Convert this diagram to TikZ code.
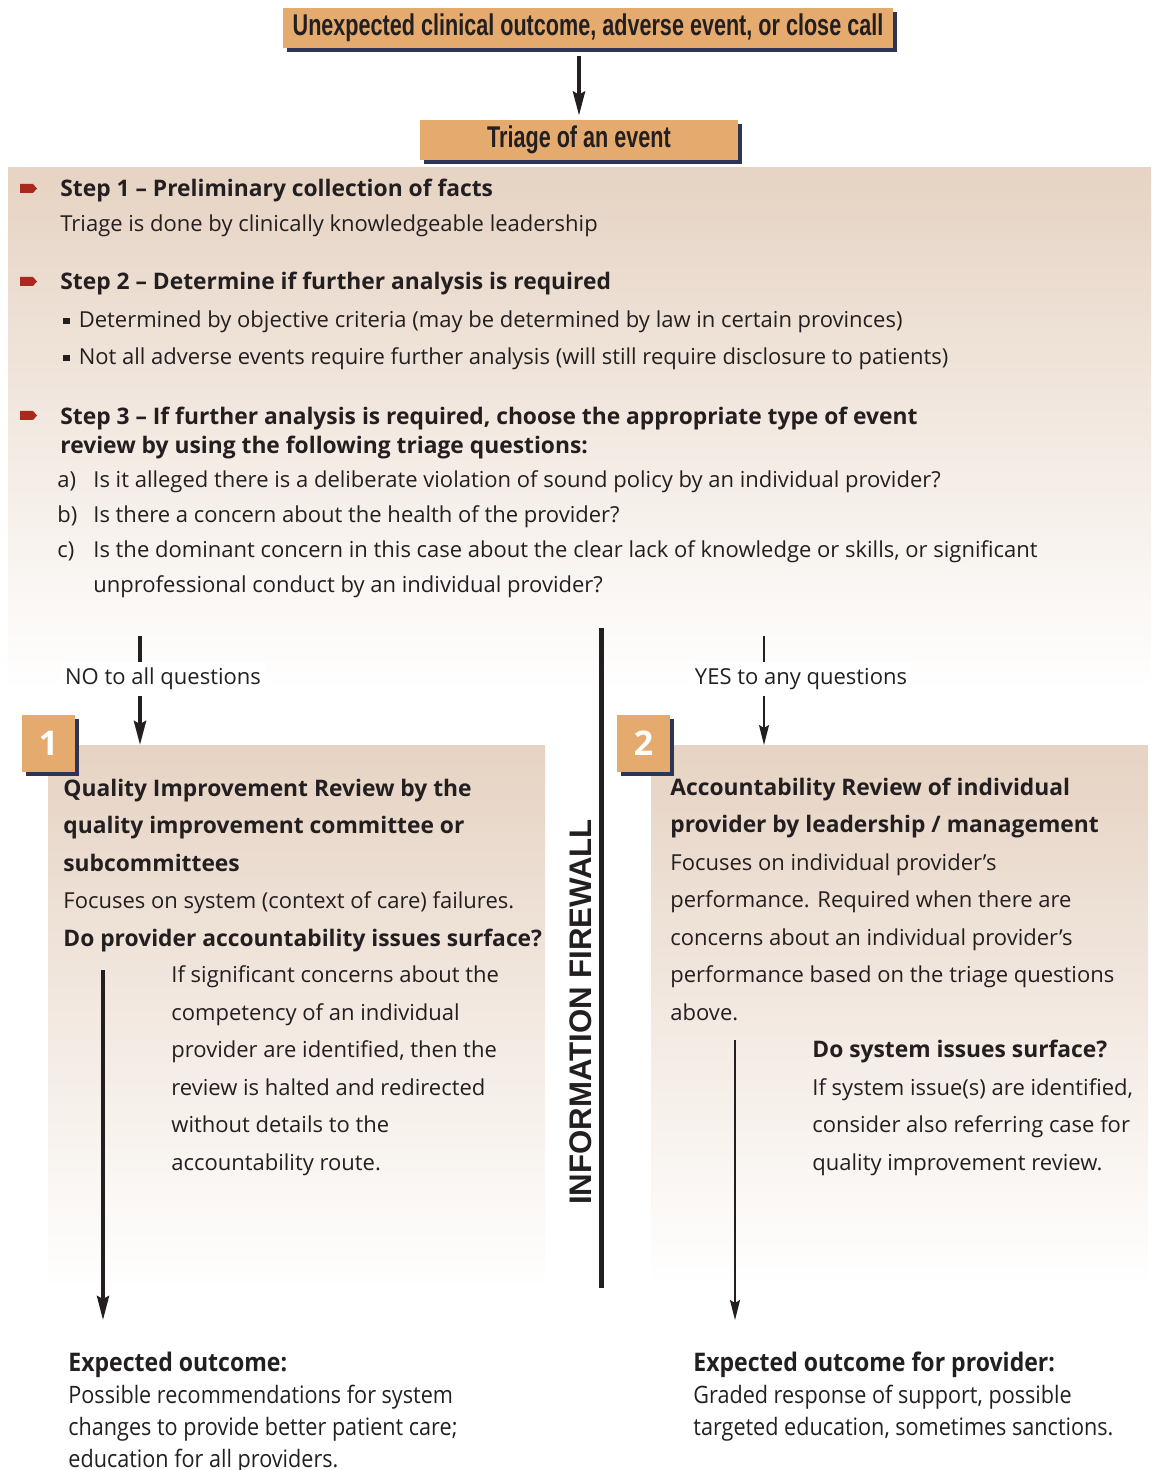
\documentclass[tikz,border=0pt]{standalone}
\usepackage{fontspec}
\setmainfont{Open Sans}
\setsansfont{Open Sans}
\newfontfamily\headfont[FakeStretch=0.72]{Liberation Sans}
\newfontfamily\outfont[FakeStretch=0.9]{Open Sans}
\newfontfamily\wallfont{Liberation Sans}
\usetikzlibrary{arrows.meta}
\usetikzlibrary{shadows}
\usetikzlibrary{positioning}

\definecolor{boxorange}{HTML}{E4AA6E}
\definecolor{shadownavy}{HTML}{2E3454}
\definecolor{paneltan}{HTML}{E6D3C3}
\definecolor{stepred}{HTML}{A8291E}
\definecolor{inkgrey}{HTML}{231F20}

\newcommand{\sqbul}{\rule[0.3ex]{0.28em}{0.28em}\hspace{0.42em}}
\newcommand{\hd}[1]{{\bfseries\fontsize{11.4}{12}\selectfont #1}}

\tikzset{
  eventbox/.style={fill=boxorange, minimum height=20pt, inner sep=0pt,
    text=inkgrey, font=\headfont\bfseries\fontsize{15}{15}\selectfont,
    drop shadow={shadow xshift=2pt, shadow yshift=-2pt, fill=shadownavy, opacity=1}},
  numbox/.style={fill=boxorange, minimum width=26.5pt, minimum height=28.5pt,
    inner sep=0pt, text=white, font=\bfseries\fontsize{17}{17}\selectfont,
    drop shadow={shadow xshift=1.8pt, shadow yshift=-1.8pt, fill=shadownavy, opacity=1}},
  % base anchor of a multi-line node = baseline of its last line
  txt/.style={anchor=base west, align=left, inner sep=0pt, text=inkgrey,
    font=\fontsize{11}{#1}\selectfont},
  outtxt/.style={anchor=base west, align=left, inner sep=0pt, text=inkgrey,
    font=\outfont\fontsize{12}{16}\selectfont},
  arrowlabel/.style={fill=white, inner xsep=2pt, inner ysep=3pt, text=inkgrey,
    font=\fontsize{11}{11}\selectfont},
  bigarrow/.style={draw=inkgrey, line width=2pt,
    -{Stealth[length=12pt, width=6pt, inset=1.5pt]}},
  thinarrow/.style={draw=inkgrey, line width=0.9pt,
    -{Stealth[length=10pt, width=5pt, inset=1.5pt]}},
  stepmark/.pic={\fill[stepred] (-8.5,-4.5) -- (4.5,-4.5) -- (8.5,0) -- (4.5,4.5) -- (-8.5,4.5) -- cycle;}
}

\begin{document}
\begin{tikzpicture}[x=0.5pt, y=-0.5pt]
  \useasboundingbox (0,0) rectangle (1151,1470);

  % shaded panels
  \shade[top color=paneltan, middle color=paneltan!70, bottom color=white] (8,168) rectangle (1151,690);
  \shade[top color=paneltan, middle color=paneltan!65, bottom color=white] (48,745) rectangle (545,1290);
  \shade[top color=paneltan, middle color=paneltan!65, bottom color=white] (651,745) rectangle (1148,1285);

  % event and triage
  \node[eventbox, minimum width=305pt] (event) at (588,28) {Unexpected clinical outcome, adverse event, or close call};
  \node[eventbox, minimum width=159pt] (triage) at (579,140) {Triage of an event};
  \draw[bigarrow] ([yshift=-4pt]event.south -| triage.north) -- ([yshift=2pt]triage.north);

  % triage steps
  \pic at (28.5,188.5) {stepmark};
  \pic at (28.5,281.5) {stepmark};
  \pic at (28.5,415.5) {stepmark};
  \node[txt=17.5pt] (step1) at (60,232) {\hd{Step 1 -- Preliminary collection of facts}\\
    Triage is done by clinically knowledgeable leadership};
  \node[txt=17.5pt] (step2) at (60,290) {\hd{Step 2 -- Determine if further analysis is required}};
  \node[txt=18.5pt] (crit) at (63,365) {\sqbul Determined by objective criteria (may be determined by law in certain provinces)\\
    \sqbul Not all adverse events require further analysis (will still require disclosure to patients)};
  \node[txt=14.5pt] (step3) at (60,453) {\hd{Step 3 -- If further analysis is required, choose the appropriate type of event}\\
    \hd{review by using the following triage questions:}};
  \node[txt=17.5pt] (qlab) at (57,557) {a)\\b)\\c)};
  \node[txt=17.5pt] (quest) at (93,592) {Is it alleged there is a deliberate violation of sound policy by an individual provider?\\
    Is there a concern about the health of the provider?\\
    Is the dominant concern in this case about the clear lack of knowledge or skills, or significant\\
    unprofessional conduct by an individual provider?};

  % branch labels and arrows
  \node[arrowlabel] (no) at (163,679) {NO to all questions};
  \node[arrowlabel] (yes) at (801,679) {YES to any questions};
  \coordinate (noTop) at (140,636);
  \coordinate (noEnd) at (140,745);
  \coordinate (yesTop) at (764,636);
  \coordinate (yesEnd) at (764,745);
  \draw[draw=inkgrey, line width=2pt] (noTop) -- (noTop |- no.north);
  \draw[bigarrow] (noTop |- no.south) -- (noEnd);
  \draw[draw=inkgrey, line width=0.9pt] (yesTop) -- (yesTop |- yes.north);
  \draw[thinarrow] (yesTop |- yes.south) -- (yesEnd);

  % information firewall
  \coordinate (wallTop) at (601,628);
  \coordinate (wallEnd) at (601,1288);
  \draw[draw=inkgrey, line width=2.5pt] (wallTop) -- (wallEnd);
  \node[rotate=90, text=inkgrey, inner sep=0pt, font=\wallfont\bfseries\fontsize{15.6}{15.6}\selectfont] (wall) at (581,1012) {INFORMATION FIREWALL};

  % review 1
  \node[numbox] (one) at (48.5,743.5) {1};
  \node[txt=18.75pt] (qireview) at (63,946) {\hd{Quality Improvement Review by the}\\
    \hd{quality improvement committee or}\\
    \hd{subcommittees}\\
    Focuses on system (context of care) failures.\\
    \hd{Do provider accountability issues surface?}};
  \node[txt=18.75pt] (qihalt) at (171,1170) {If significant concerns about the\\
    competency of an individual\\
    provider are identified, then the\\
    review is halted and redirected\\
    without details to the\\
    accountability route.};

  % review 2
  \node[numbox] (two) at (643.5,743.5) {2};
  \node[txt=18.75pt] (acreview) at (670,1020) {\hd{Accountability Review of individual}\\
    \hd{provider by leadership / management}\\
    Focuses on individual provider’s\\
    performance. Required when there are\\
    concerns about an individual provider’s\\
    performance based on the triage questions\\
    above.};
  \node[txt=18.75pt] (acsys) at (812,1170) {\hd{Do system issues surface?}\\
    If system issue(s) are identified,\\
    consider also referring case for\\
    quality improvement review.};

  % outcomes
  \coordinate (qiTop) at (103,970);
  \coordinate (qiEnd) at (103,1320);
  \coordinate (acTop) at (735,1040);
  \coordinate (acEnd) at (735,1320);
  \draw[bigarrow, line width=1.8pt] (qiTop) -- (qiEnd);
  \draw[thinarrow] (acTop) -- (acEnd);
  \node[outtxt] (qiout) at (68,1467) {{\bfseries\fontsize{12.8}{16}\selectfont Expected outcome:}\\
    Possible recommendations for system\\
    changes to provide better patient care;\\
    education for all providers.};
  \node[outtxt] (acout) at (693,1435) {{\bfseries\fontsize{12.8}{16}\selectfont Expected outcome for provider:}\\
    Graded response of support, possible\\
    targeted education, sometimes sanctions.};
\end{tikzpicture}
\end{document}
